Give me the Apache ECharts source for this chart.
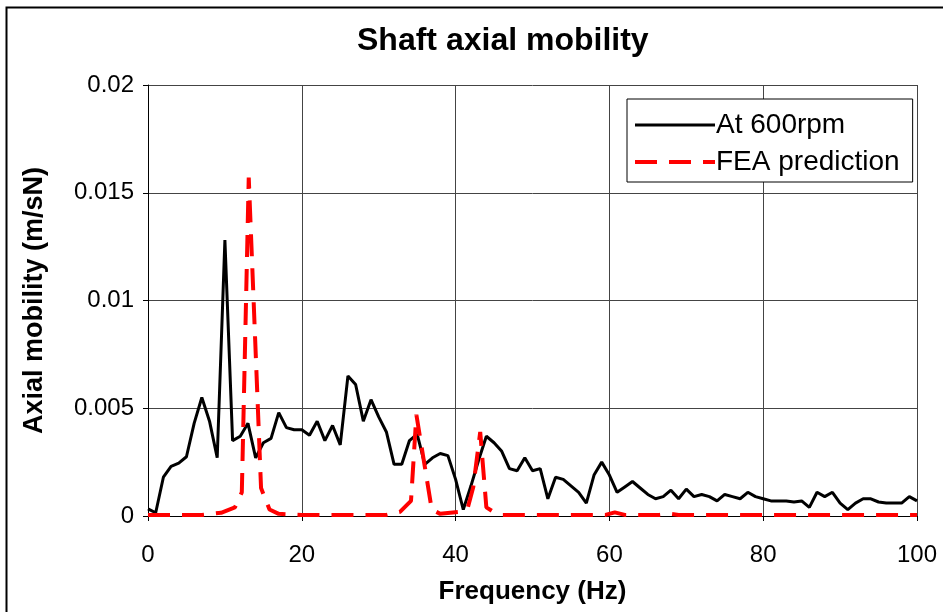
<!DOCTYPE html>
<html>
<head>
<meta charset="utf-8">
<script src="https://cdn.jsdelivr.net/npm/echarts@6/dist/echarts.min.js"></script>
<style>
  html, body { margin: 0; padding: 0; background: #fff; }
  #main { width: 943px; height: 612px; }
</style>
</head>
<body>
<div id="main"></div>
<script>
// measured response at 600rpm, one value per Hz from 0 to 100
var measured600 = [
    0.00033, 0.00015, 0.0018, 0.0023, 0.00245, 0.00275, 0.0043, 0.0055, 0.0044, 0.0027,
    0.0128, 0.0035, 0.0037, 0.0043, 0.0027, 0.0034, 0.0036, 0.0048, 0.0041, 0.0040,
    0.0040, 0.00375, 0.0044, 0.0035, 0.0042, 0.0033, 0.0065, 0.0061, 0.0044, 0.0054,
    0.0046, 0.0039, 0.0024, 0.0024, 0.0035, 0.0038, 0.0024, 0.0027, 0.0029, 0.0028,
    0.0017, 0.0003, 0.0014, 0.0026, 0.0037, 0.0034, 0.0030, 0.0022, 0.0021, 0.0027,
    0.0021, 0.0022, 0.0008, 0.0018, 0.0017, 0.0014, 0.0011, 0.0006, 0.0019, 0.0025,
    0.0019, 0.0011, 0.00135, 0.0016, 0.0013, 0.0010, 0.0008, 0.0009, 0.0012, 0.0008,
    0.00125, 0.0009, 0.0010, 0.0009, 0.0007, 0.0010, 0.0009, 0.0008, 0.0011, 0.0009,
    0.0008, 0.0007, 0.0007, 0.0007, 0.00065, 0.0007, 0.0004, 0.0011, 0.0009, 0.0011,
    0.0006, 0.0003, 0.0006, 0.0008, 0.0008, 0.00065, 0.0006, 0.0006, 0.0006, 0.0009,
    0.0007
];

// FEA prediction (frequency, mobility)
var feaFreq = [0, 7, 9.5, 11.3, 12.2, 13.1, 14.7, 15.8, 17, 20,
    31, 32.8, 34.2, 34.9, 36.9, 38, 40.8, 41.6, 42.3, 43.2,
    44, 44.9, 46, 59.5, 60.7, 62, 66.5, 67.9, 69, 100];
var feaValues = [0.00005, 0.00005, 0.00015, 0.0004, 0.0011, 0.0157, 0.0013, 0.0003, 0.0001, 0.00005,
    0.00005, 0.0002, 0.0007, 0.0047, 0.0003, 0.0001, 0.0002, 0.0004, 0.00135, 0.0039,
    0.0004, 0.0002, 0.00005, 0.00005, 0.00017, 0.00005, 0.00005, 0.0001, 0.00005, 0.00005];

var seriesNames = ['At 600rpm', 'FEA prediction'];

var fontName = 'Liberation Sans, Arial, sans-serif';

var measuredData = [];
for (var i = 0; i < measured600.length; i++) {
    measuredData.push([i, measured600[i]]);
}
var feaData = [];
for (var j = 0; j < feaFreq.length; j++) {
    feaData.push([feaFreq[j], feaValues[j]]);
}

var myChart = echarts.init(document.getElementById('main'));
var option = {
    backgroundColor: '#fff',
    animation: false,
    title: {
        text: 'Shaft axial mobility',
        left: 352,
        top: 20,
        textStyle: {
            fontFamily: fontName,
            fontSize: 32,
            fontWeight: 'bold',
            color: '#000'
        }
    },
    graphic: [{
        type: 'rect',
        left: 4,
        top: 5,
        shape: { width: 960, height: 640 },
        style: { fill: 'none', stroke: '#000', lineWidth: 2 }
    }],
    legend: {
        orient: 'vertical',
        left: 627,
        top: 99,
        padding: [12, 13, 6, 6],
        itemGap: 9,
        itemWidth: 80,
        itemHeight: 14,
        backgroundColor: '#fff',
        borderColor: '#000',
        borderWidth: 1,
        itemStyle: { opacity: 0 },
        textStyle: {
            fontFamily: fontName,
            fontSize: 28,
            color: '#000',
            padding: [0, 0, 0, -4]
        },
        data: [
            { name: seriesNames[0], lineStyle: { width: 3 } },
            { name: seriesNames[1], lineStyle: { width: 4 } }
        ]
    },
    grid: {
        left: 148,
        right: 26,
        top: 85,
        bottom: 96
    },
    xAxis: {
        type: 'value',
        min: 0,
        max: 100,
        interval: 20,
        name: 'Frequency (Hz)',
        nameLocation: 'middle',
        nameGap: 63,
        nameTextStyle: {
            fontFamily: fontName,
            fontSize: 26,
            fontWeight: 'bold',
            color: '#000'
        },
        axisLine: { lineStyle: { color: '#000', width: 1 } },
        axisTick: { show: true, inside: false, length: 5, lineStyle: { color: '#000' } },
        axisLabel: {
            margin: 27,
            fontFamily: fontName,
            fontSize: 24,
            color: '#000'
        },
        splitLine: { show: true, lineStyle: { color: '#444', width: 1 } }
    },
    yAxis: {
        type: 'value',
        min: 0,
        max: 0.02,
        interval: 0.005,
        name: 'Axial mobility (m/sN)',
        nameLocation: 'middle',
        nameGap: 100,
        nameRotate: 90,
        nameTextStyle: {
            fontFamily: fontName,
            fontSize: 27,
            fontWeight: 'bold',
            color: '#000'
        },
        axisLine: { show: true, lineStyle: { color: '#000', width: 1 } },
        axisTick: { show: true, inside: false, length: 5, lineStyle: { color: '#000' } },
        axisLabel: {
            margin: 14,
            fontFamily: fontName,
            fontSize: 24,
            color: '#000',
            formatter: function (v) {
                return v === 0 ? '0' : String(Math.round(v * 1000) / 1000);
            }
        },
        splitLine: { show: true, lineStyle: { color: '#444', width: 1 } }
    },
    series: [{
        name: seriesNames[0],
        type: 'line',
        symbol: 'none',
        data: measuredData,
        lineStyle: { color: '#000', width: 3 },
        itemStyle: { color: '#000' },
        z: 2
    }, {
        name: seriesNames[1],
        type: 'line',
        symbol: 'none',
        data: feaData,
        lineStyle: { color: '#f00', width: 4, type: [22, 12] },
        itemStyle: { color: '#f00' },
        z: 3
    }]
};
myChart.setOption(option);
</script>
</body>
</html>
